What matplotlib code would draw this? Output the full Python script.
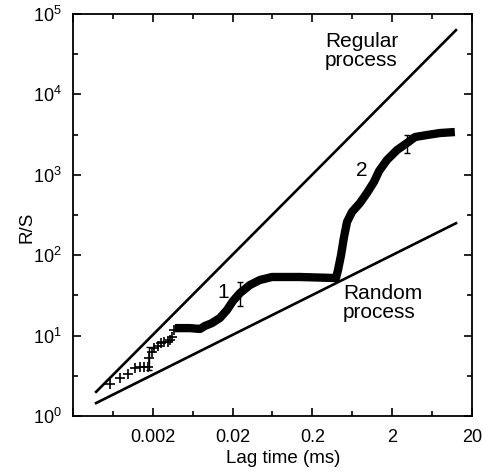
import numpy as np
import matplotlib
matplotlib.use('Agg')
import matplotlib.pyplot as plt
from matplotlib.ticker import FixedLocator, NullFormatter, LogFormatterSciNotation

plt.rcParams['font.family'] = ['Liberation Sans', 'DejaVu Sans']
plt.rcParams['mathtext.fontset'] = 'custom'
plt.rcParams['mathtext.rm'] = 'Liberation Sans'
plt.rcParams['mathtext.it'] = 'Liberation Sans:italic'

# sparse early points (lag time in ms, R/S)
sparse_x = [0.00058, 0.00078, 0.00097, 0.0012, 0.00138, 0.00156, 0.00173, 0.00179,
            0.00194, 0.00209, 0.0023, 0.00251, 0.00276, 0.00307, 0.00329, 0.00351, 0.00368]
sparse_y = [2.48, 2.94, 3.33, 3.92, 4.03, 4.03, 4.03, 5.22,
            6.3, 6.95, 7.42, 8.16, 8.4, 8.4, 8.81, 9.69, 11.7]

# dense part of the R/S curve
dense_x = [0.00379, 0.00585, 0.00781, 0.00902, 0.011, 0.0139, 0.017, 0.0202, 0.0248,
           0.033, 0.044, 0.0624, 0.14, 0.395, 0.419, 0.457, 0.498, 0.543, 0.627,
           0.789, 0.966, 1.18, 1.37, 1.72, 2.3, 3.07, 3.86, 5.46, 7.94, 12.2]
dense_y = [12.4, 12.4, 12.1, 13.2, 14.3, 16.6, 20.8, 26.9, 33.9,
           42.6, 49.2, 53.6, 53.6, 52.0, 65.5, 100, 168, 259, 345,
           446, 594, 814, 1115, 1528, 2034, 2488, 2952, 3126, 3311, 3404]

# error bars: x, centre, lower, upper
err_x = [0.00179, 0.0248, 3.07]
err_y = [5.22, 33.9, 2488]
err_lo = [3.7, 23.4, 1860]
err_hi = [7.3, 46.8, 3120]

# reference lines H = 1 and H = 0.5
line_x = [0.00039, 12.6]
regular_y = [2.0, 63000]
random_y = [1.45, 250]

xticks = [0.0002, 0.002, 0.02, 0.2, 2, 20]
xtick_labels = ['', '0.002', '0.02', '0.2', '2', '20']

fig = plt.figure(figsize=(4.83, 4.72), dpi=100)
ax = fig.add_axes([0.1511, 0.1186, 0.8261, 0.8517])
ax.set_xscale('log')
ax.set_yscale('log')
ax.set_xlim(0.0002, 20)
ax.set_ylim(1, 1e5)

ax.plot(line_x, regular_y, color='black', lw=1.9)
ax.plot(line_x, random_y, color='black', lw=1.9)

ax.plot(sparse_x, sparse_y, ls='none', marker='+', ms=7, mew=1.2, color='black')
ax.plot(dense_x, dense_y, color='black', lw=6, solid_capstyle='butt')

ey = np.array(err_y)
yerr = [ey - np.array(err_lo), np.array(err_hi) - ey]
ax.errorbar(err_x, err_y, yerr=yerr, fmt='none', ecolor='black', elinewidth=1.0,
            capsize=2, capthick=1.0)

ax.text(0.288, 34700, 'Regular\nprocess', fontsize=15, ha='left', va='center', linespacing=0.95)
ax.text(0.483, 25.4, 'Random\nprocess', fontsize=15, ha='left', va='center', linespacing=0.95)
ax.text(0.0152, 33.9, '1', fontsize=15, ha='center', va='center')
ax.text(0.838, 1148, '2', fontsize=15, ha='center', va='center')

ax.xaxis.set_major_locator(FixedLocator(xticks))
ax.set_xticklabels(xtick_labels)
ax.xaxis.set_minor_locator(FixedLocator([0.0002 * 10 ** (k + 0.5) for k in range(5)]))
ax.xaxis.set_minor_formatter(NullFormatter())
ax.yaxis.set_major_locator(FixedLocator([1, 10, 100, 1e3, 1e4, 1e5]))
ax.yaxis.set_major_formatter(LogFormatterSciNotation())
ax.yaxis.set_minor_locator(FixedLocator([10 ** (k + 0.5) for k in range(5)]))
ax.yaxis.set_minor_formatter(NullFormatter())

ax.tick_params(which='both', direction='in', top=True, right=True, labelsize=13, width=1.2)
ax.tick_params(which='major', length=6)
ax.tick_params(which='minor', length=3.5)
ax.tick_params(axis='x', pad=9)
ax.tick_params(axis='y', pad=8)
for s in ax.spines.values():
    s.set_linewidth(1.3)

ax.set_xlabel('Lag time (ms)', fontsize=13.5, labelpad=0)
ax.xaxis.set_label_coords(0.526, -0.085)
ax.set_ylabel('R/S', fontsize=13.5)
ax.yaxis.set_label_coords(-0.095, 0.47)

fig.savefig('out.png', dpi=100)
